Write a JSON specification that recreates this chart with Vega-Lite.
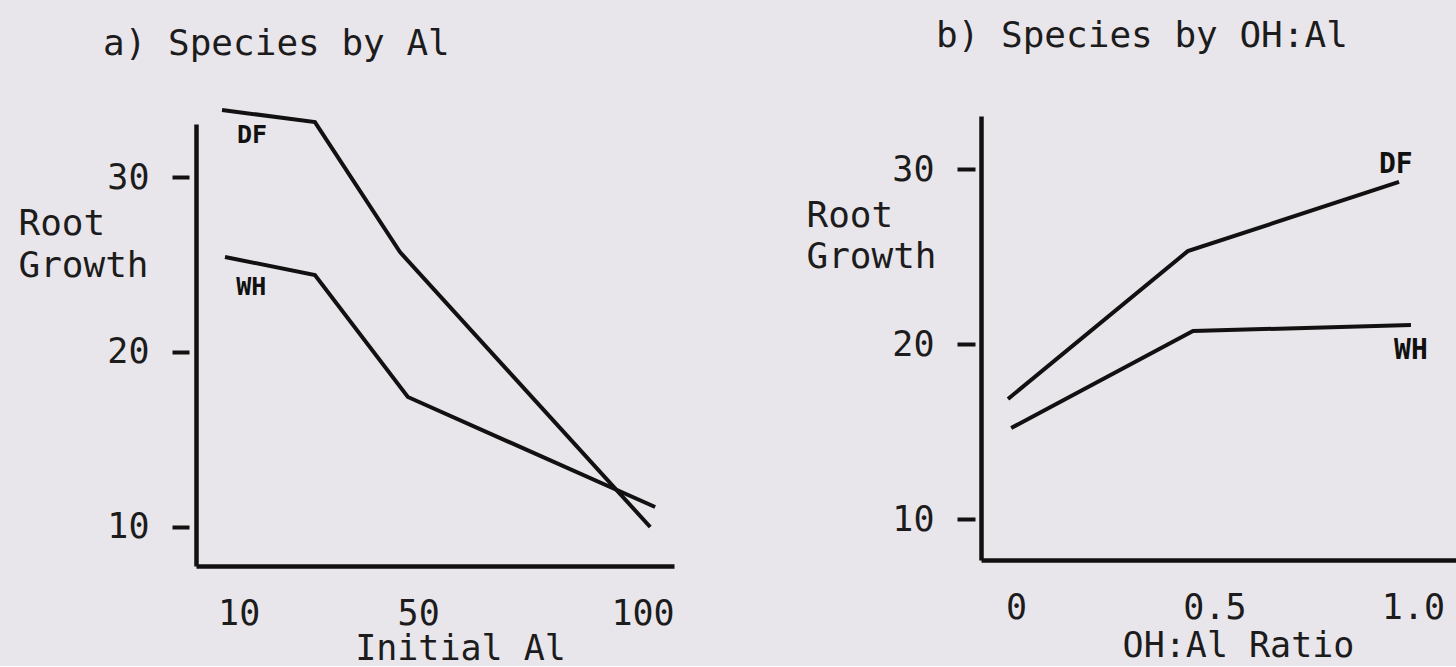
{
  "$schema": "https://vega.github.io/schema/vega-lite/v6.json",
  "background": "#e9e6eb",
  "padding": {"left": 18, "top": 18, "right": 0, "bottom": 0},
  "spacing": 131,
  "config": {
    "font": "DejaVu Sans Mono",
    "view": {"stroke": null},
    "axis": {
      "labelFont": "DejaVu Sans Mono",
      "titleFont": "DejaVu Sans Mono",
      "labelFontSize": 35,
      "titleFontSize": 35,
      "labelColor": "#1c1c1c",
      "titleColor": "#1c1c1c",
      "titleFontWeight": "normal",
      "domainColor": "#111111",
      "domainWidth": 4.5,
      "tickColor": "#111111",
      "tickWidth": 4,
      "grid": false,
      "labelFlush": false,
      "labelOverlap": false
    }
  },
  "datasets": {
    "growthByAl": [
      {"species": "DF", "al": 6.3, "growth": 33.83},
      {"species": "DF", "al": 27.0, "growth": 33.14},
      {"species": "DF", "al": 45.95, "growth": 25.71},
      {"species": "DF", "al": 101.7, "growth": 10.0},
      {"species": "WH", "al": 6.96, "growth": 25.43},
      {"species": "WH", "al": 27.0, "growth": 24.4},
      {"species": "WH", "al": 47.7, "growth": 17.43},
      {"species": "WH", "al": 102.8, "growth": 11.14}
    ],
    "labelsAl": [
      {"species": "DF", "al": 13.0, "growth": 32.4},
      {"species": "WH", "al": 12.8, "growth": 23.71}
    ],
    "growthByRatio": [
      {"species": "DF", "ratio": -0.02, "growth": 16.86},
      {"species": "DF", "ratio": 0.433, "growth": 25.31},
      {"species": "DF", "ratio": 0.965, "growth": 29.26},
      {"species": "WH", "ratio": -0.012, "growth": 15.2},
      {"species": "WH", "ratio": 0.446, "growth": 20.74},
      {"species": "WH", "ratio": 0.995, "growth": 21.09}
    ],
    "labelsRatio": [
      {"species": "DF", "ratio": 0.957, "growth": 30.23},
      {"species": "WH", "ratio": 0.995, "growth": 19.6}
    ]
  },
  "hconcat": [
    {
      "width": 478,
      "height": 450,
      "title": {
        "text": "a) Species by Al",
        "anchor": "start",
        "frame": "group",
        "dx": -93,
        "offset": 11,
        "baseline": "alphabetic",
        "fontSize": 36,
        "fontWeight": "normal",
        "font": "DejaVu Sans Mono",
        "color": "#1c1c1c"
      },
      "layer": [
        {
          "data": {"name": "growthByAl"},
          "mark": {"type": "line", "color": "#111111", "strokeWidth": 4, "clip": false},
          "encoding": {
            "x": {
              "field": "al",
              "type": "quantitative",
              "scale": {"domain": [0.5, 107], "nice": false, "zero": false},
              "axis": {
                "title": "Initial Al",
                "values": [10, 50, 100],
                "ticks": false,
                "tickSize": 0,
                "labelPadding": 30,
                "titleX": 264,
                "titleY": 93,
                "titleBaseline": "alphabetic",
                "titleAlign": "center"
              }
            },
            "y": {
              "field": "growth",
              "type": "quantitative",
              "scale": {"domain": [7.771, 33.029], "range": [450, 8], "nice": false, "zero": false},
              "axis": {
                "title": ["Root", "Growth"],
                "values": [10, 20, 30],
                "tickSize": 24,
                "tickDash": [0, 7, 17, 60],
                "labelPadding": 23,
                "titleFontSize": 36,
                "titleAngle": 0,
                "titleAlign": "left",
                "titleBaseline": "alphabetic",
                "titleX": -178,
                "titleY": 118,
                "titleLineHeight": 42
              }
            },
            "detail": {"field": "species", "type": "nominal"}
          }
        },
        {
          "data": {"name": "labelsAl"},
          "mark": {"type": "text", "font": "DejaVu Sans Mono", "fontWeight": "bold", "fontSize": 25, "color": "#111111"},
          "encoding": {
            "x": {"field": "al", "type": "quantitative"},
            "y": {"field": "growth", "type": "quantitative"},
            "text": {"field": "species", "type": "nominal"}
          }
        }
      ]
    },
    {
      "width": 476,
      "height": 444,
      "title": {
        "text": "b) Species by OH:Al",
        "anchor": "start",
        "frame": "group",
        "dx": -45,
        "offset": 33,
        "baseline": "alphabetic",
        "fontSize": 36,
        "fontWeight": "normal",
        "font": "DejaVu Sans Mono",
        "color": "#1c1c1c"
      },
      "layer": [
        {
          "data": {"name": "growthByRatio"},
          "mark": {"type": "line", "color": "#111111", "strokeWidth": 4, "clip": false},
          "encoding": {
            "x": {
              "field": "ratio",
              "type": "quantitative",
              "scale": {"domain": [-0.088, 1.111], "nice": false, "zero": false},
              "axis": {
                "title": "OH:Al Ratio",
                "values": [0, 0.5, 1],
                "labelExpr": "datum.value == 0 ? '0' : format(datum.value, '.1f')",
                "ticks": false,
                "tickSize": 0,
                "labelPadding": 30,
                "titleX": 257,
                "titleY": 96,
                "titleBaseline": "alphabetic",
                "titleAlign": "center"
              }
            },
            "y": {
              "field": "growth",
              "type": "quantitative",
              "scale": {"domain": [7.657, 33.03], "nice": false, "zero": false},
              "axis": {
                "title": ["Root", "Growth"],
                "values": [10, 20, 30],
                "tickSize": 24,
                "tickDash": [0, 6, 18, 60],
                "labelPadding": 23,
                "titleFontSize": 36,
                "titleAngle": 0,
                "titleAlign": "left",
                "titleBaseline": "alphabetic",
                "titleX": -175,
                "titleY": 110,
                "titleLineHeight": 41
              }
            },
            "detail": {"field": "species", "type": "nominal"}
          }
        },
        {
          "data": {"name": "labelsRatio"},
          "mark": {"type": "text", "font": "DejaVu Sans Mono", "fontWeight": "bold", "fontSize": 28, "color": "#111111"},
          "encoding": {
            "x": {"field": "ratio", "type": "quantitative"},
            "y": {"field": "growth", "type": "quantitative"},
            "text": {"field": "species", "type": "nominal"}
          }
        }
      ]
    }
  ]
}
